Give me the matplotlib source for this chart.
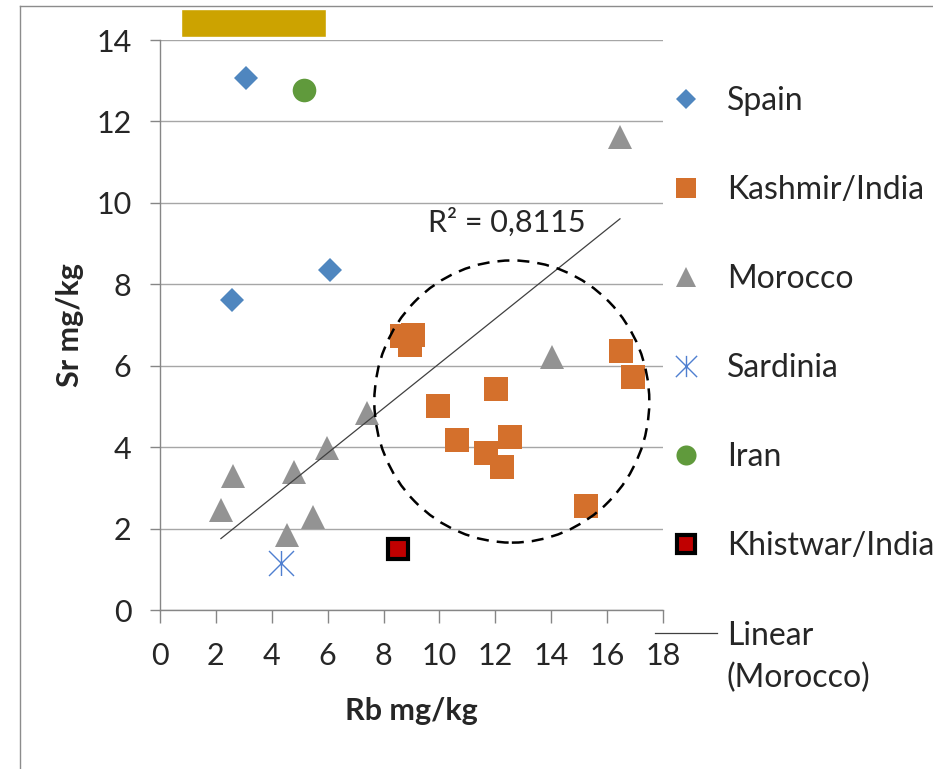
import numpy as np
import matplotlib
matplotlib.use("Agg")
from matplotlib import pyplot as plt
from matplotlib.patches import Ellipse, Rectangle
from matplotlib.path import Path
from matplotlib.lines import Line2D

plt.rcParams['font.family'] = ['Lato', 'DejaVu Sans']

# data (Rb mg/kg, Sr mg/kg)
spain_rb = [3.08, 2.58, 6.08]
spain_sr = [13.06, 7.62, 8.35]

kashmir_rb = [8.65, 9.07, 8.95, 9.94, 12.01, 10.64, 12.53, 11.66, 12.25, 16.5, 16.92, 15.25]
kashmir_sr = [6.72, 6.76, 6.51, 5.02, 5.43, 4.18, 4.26, 3.85, 3.52, 6.37, 5.72, 2.56]

morocco_rb = [16.46, 14.02, 7.4, 5.97, 4.8, 2.6, 2.18, 5.49, 4.56]
morocco_sr = [11.62, 6.22, 4.83, 3.97, 3.4, 3.28, 2.46, 2.29, 1.84]

sardinia_rb = [4.32]
sardinia_sr = [1.15]

iran_rb = [5.14]
iran_sr = [12.78]

khistwar_rb = [8.53]
khistwar_sr = [1.49]

r2_text = 'R² = 0,8115'

# dashed circle around the Kashmir group
circle_center = (12.59, 5.12)
circle_w = 9.84
circle_h = 6.93

W, H = 933, 769
fig = plt.figure(figsize=(W/100, H/100), dpi=100)
ax = fig.add_axes([160/W, 1-610/H, 503/W, 570/H])

# excel style star: X plus vertical bar
star = Path([(-1, -1), (1, 1), (-1, 1), (1, -1), (0, -1), (0, 1)],
            [Path.MOVETO, Path.LINETO, Path.MOVETO, Path.LINETO, Path.MOVETO, Path.LINETO])

h_spain, = ax.plot(spain_rb, spain_sr, 'D', color='#4F86BF', ms=12, mew=0, label='Spain', zorder=3)
h_kash, = ax.plot(kashmir_rb, kashmir_sr, 's', color='#D4702C', ms=17, mew=0, label='Kashmir/India', zorder=3)
h_mor, = ax.plot(morocco_rb, morocco_sr, '^', color='#939393', ms=17, mew=0, label='Morocco', zorder=3)
h_sar, = ax.plot(sardinia_rb, sardinia_sr, linestyle='none', marker=star, color='#4F7FD0',
                 ms=18, mew=1.0, label='Sardinia', zorder=3)
h_iran, = ax.plot(iran_rb, iran_sr, 'o', color='#609A3C', ms=17, mew=0, label='Iran', zorder=3)
h_khis, = ax.plot(khistwar_rb, khistwar_sr, 's', color='#C00000', mec='black', ms=15, mew=3,
                  label='Khistwar/India', zorder=3)

# linear trend for Morocco
slope, icpt = np.polyfit(morocco_rb, morocco_sr, 1)
xs = np.array([min(morocco_rb), max(morocco_rb)])
h_lin, = ax.plot(xs, slope*xs + icpt, color='#404040', lw=0.9, label='Linear', zorder=4)
ax.text(9.6, 9.3, r2_text, fontsize=22, color='#262626', ha='left', va='baseline')

ell = Ellipse(circle_center, circle_w, circle_h, fill=False, edgecolor='black',
              lw=1.8, linestyle=(0, (4.8, 3.2)), zorder=5)
ax.add_patch(ell)

ax.set_xlim(0, 18)
ax.set_ylim(0, 14)
ax.set_xticks(np.arange(0, 19, 2))
ax.set_yticks(np.arange(0, 15, 2))
ax.grid(axis='y', color='#a6a6a6', lw=1.0)
ax.set_axisbelow(True)
for s in ['top', 'right']:
    ax.spines[s].set_visible(False)
for s in ['left', 'bottom']:
    ax.spines[s].set_color('#868686')
    ax.spines[s].set_linewidth(1.0)
ax.tick_params(axis='y', length=7.5, width=1, color='#868686', labelsize=22, pad=13, labelcolor='#262626')
ax.tick_params(axis='x', length=9, width=1, color='#868686', labelsize=22, pad=14, labelcolor='#262626')

ax.set_xlabel('Rb mg/kg', fontsize=22, fontweight='bold', color='#262626')
ax.set_ylabel('Sr mg/kg', fontsize=22, fontweight='bold', color='#262626')
ax.xaxis.set_label_coords(0.5, (610-697)/570)
ax.yaxis.set_label_coords((84-160)/503, 0.5)

leg = fig.legend(handles=[h_spain, h_kash, h_mor, h_sar, h_iran, h_khis, h_lin],
                 loc='upper left', bbox_to_anchor=(655/W, 1-86/H), frameon=False,
                 fontsize=23, labelspacing=1.85, handlelength=1.94, handletextpad=0.31,
                 borderpad=0, borderaxespad=0, markerscale=0.85, labelcolor='#262626')

# second line of the trendline label, under "Linear"
fig.canvas.draw()
bb = leg.get_texts()[-1].get_window_extent()
fig.text(bb.x0/W, (bb.y0 - 43)/H, '(Morocco)', fontsize=23, color='#262626', ha='left', va='bottom')

# frame edges and the gold patch at the top
fig.add_artist(Line2D([20/W, 20/W], [0, 1-6/H], color='#8c8c8c', lw=1, transform=fig.transFigure))
fig.add_artist(Line2D([20/W, 1], [1-6/H, 1-6/H], color='#8c8c8c', lw=1, transform=fig.transFigure))
fig.add_artist(Rectangle((181/W, 1-37/H), 145/W, 28/H, facecolor='#CCA300',
                         edgecolor='white', lw=1, transform=fig.transFigure, zorder=10))

fig.savefig('out.png', dpi=100)
